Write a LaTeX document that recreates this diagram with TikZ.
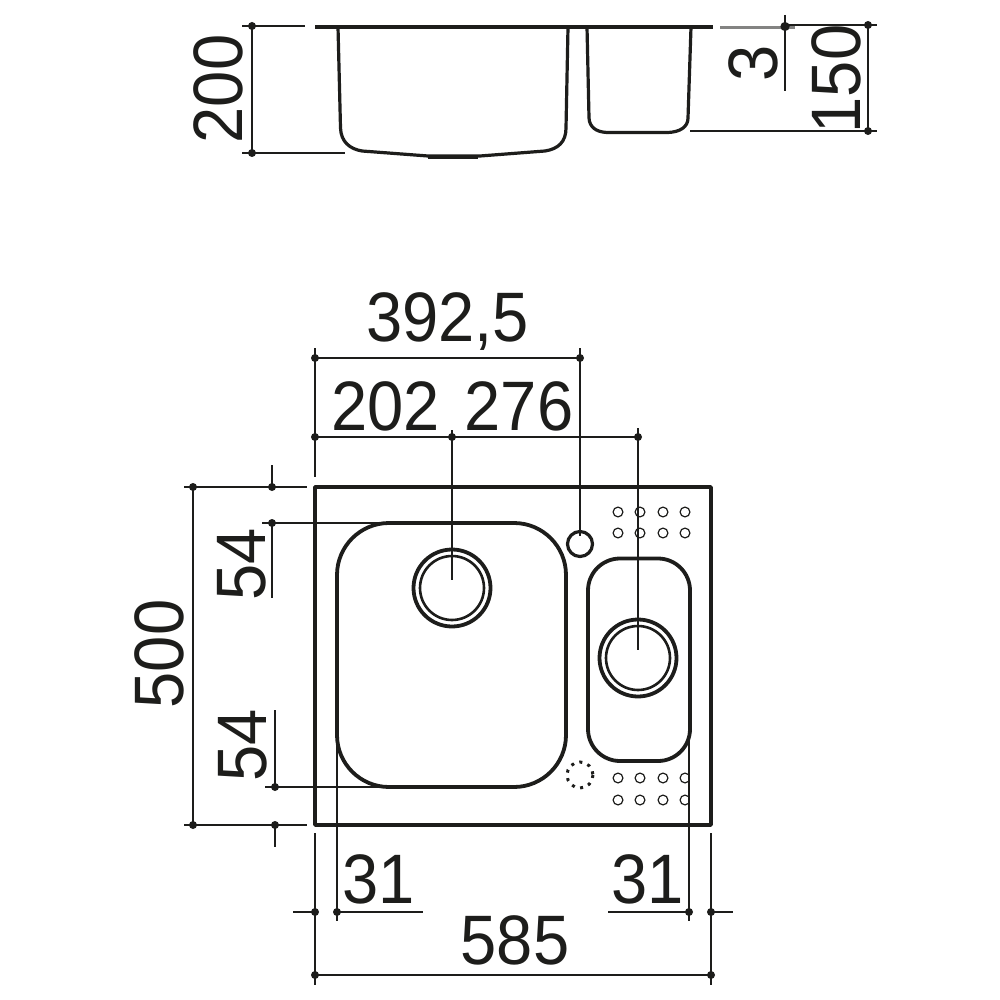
\documentclass[tikz,border=0pt]{standalone}
\usepackage{fontspec}
\setmainfont[FakeStretch=0.93]{Liberation Sans}
\definecolor{ink}{HTML}{1D1D1B}
\tikzset{
  dimline/.style={draw=ink,line width=0.85pt},
  outline/.style={draw=ink,line width=1.9pt,line join=round},
  thinhole/.style={draw=ink,line width=0.6pt},
  lab/.style={text=ink,font=\fontsize{35}{35}\selectfont,inner sep=0pt},
  dot/.style={fill=ink,draw=none}
}
\newcommand{\dimdot}[2]{\fill[dot] (#1,#2) circle[radius=4];}
\begin{document}
\begin{tikzpicture}[x=0.5pt,y=-0.5pt]
\useasboundingbox[fill=white] (0,0) rectangle (1000,1000);

% --- section view
\draw[outline] (315,27) -- (713,27);
\draw[draw=ink!55,line width=1.3pt] (720,27.5) -- (795,27.5);
\draw[outline,line width=1.6pt] (338,27) -- (340.5,128)
   .. controls (341,142) and (350,149) .. (362,151) -- (428,156) -- (480,156)
   -- (545,151) .. controls (558,149) and (566,142) .. (566,128) -- (568,27);
\draw[outline,line width=1.9pt] (428,157) -- (478,157);
\draw[outline,line width=1.6pt] (587,27) -- (589,118)
   .. controls (589.5,127) and (596,132) .. (607,132.5) -- (668,132.5)
   .. controls (680,132) and (688,127) .. (688,118) -- (691,27);
% left dimension 200
\draw[dimline] (242,26) -- (305,26);
\draw[dimline] (242,153) -- (345,153);
\draw[dimline] (252,26) -- (252,153);
\dimdot{252}{26}\dimdot{252}{153}
% right dimensions 3, 150
\draw[dimline] (785,25) -- (877,25);
\draw[dimline] (785,15) -- (785,91);
\fill[dot] (785,26.5) circle[radius=4.6];
\draw[dimline] (690,131) -- (877,131);
\draw[dimline] (868,25) -- (868,131);
\dimdot{868}{25}\dimdot{868}{131}
\node[lab,rotate=90] (t200) at (218,89) {200};
\node[lab,rotate=90] (t3) at (753,63) {3};
\node[lab,rotate=90] (t150) at (836,79) {150};

% --- plan view
\draw[outline] (315,487) rectangle (711,825);
\draw[outline,rounded corners=26pt] (337,523) rectangle (566,787);
\draw[outline,rounded corners=16pt] (588,558.5) rectangle (690,761);
\draw[outline] (452,588) circle[radius=38.5];
\draw[outline,line width=1.3pt] (452,588) circle[radius=32];
\draw[outline] (638,658) circle[radius=38.5];
\draw[outline,line width=1.3pt] (638,658) circle[radius=32];
\draw[outline,line width=1.6pt] (580,544) circle[radius=12.5];
\draw[draw=ink,line width=1.5pt,dash pattern=on 1.5pt off 2.8pt] (580,775) circle[radius=13];
\foreach \px in {618,640,663,685} \foreach \py in {512,533}
  \draw[thinhole] (\px,\py) circle[radius=4.9];
\begin{scope}
\clip (600,765) rectangle (689,812);
\foreach \px in {618,640,663,685} \foreach \py in {778,800}
  \draw[thinhole] (\px,\py) circle[radius=4.9];
\end{scope}

% top dimensions
\draw[dimline] (315,348) -- (315,477);
\draw[dimline] (580,348) -- (580,536);
\draw[dimline] (315,358) -- (580,358);
\dimdot{315}{358}\dimdot{580}{358}
\draw[dimline] (315,437) -- (638,437);
\draw[dimline] (452,430) -- (452,580);
\draw[dimline] (638,428) -- (638,650);
\dimdot{315}{437}\dimdot{452}{437}\dimdot{638}{437}
\node[lab] (t3925) at (447.5,322) {392,5};
\node[lab] (t202) at (385.5,406) {202};
\node[lab] (t276) at (519,406) {276};

% left dimensions
\draw[dimline] (184,487) -- (307,487);
\draw[dimline] (184,825) -- (307,825);
\draw[dimline] (193,487) -- (193,825);
\draw[dimline] (272,465) -- (272,487);
\draw[dimline] (262,523) -- (400,523);
\draw[dimline] (272,523) -- (272,598);
\draw[dimline] (275,710) -- (275,787);
\draw[dimline] (265,787) -- (390,787);
\draw[dimline] (275,825) -- (275,847);
\dimdot{193}{487}\dimdot{272}{487}\dimdot{272}{523}\dimdot{275}{787}\dimdot{193}{825}\dimdot{275}{825}
\node[lab,rotate=90] (t500) at (159,654) {500};
\node[lab,rotate=90] (t54a) at (242,564) {54};
\node[lab,rotate=90] (t54b) at (243,745) {54};

% bottom dimensions
\draw[dimline] (315,833) -- (315,985);
\draw[dimline] (711,833) -- (711,985);
\draw[dimline] (337,740) -- (337,921);
\draw[dimline] (689,740) -- (689,921);
\draw[dimline] (293,912) -- (315,912);
\draw[dimline] (337,912) -- (423,912);
\draw[dimline] (608,912) -- (689,912);
\draw[dimline] (711,912) -- (733,912);
\draw[dimline] (315,975) -- (711,975);
\dimdot{315}{912}\dimdot{337}{912}\dimdot{689}{912}\dimdot{711}{912}\dimdot{315}{975}\dimdot{711}{975}
\node[lab] (t31a) at (378.5,879) {31};
\node[lab] (t31b) at (648,879) {31};
\node[lab] (t585) at (515,940) {585};
\end{tikzpicture}
\end{document}
